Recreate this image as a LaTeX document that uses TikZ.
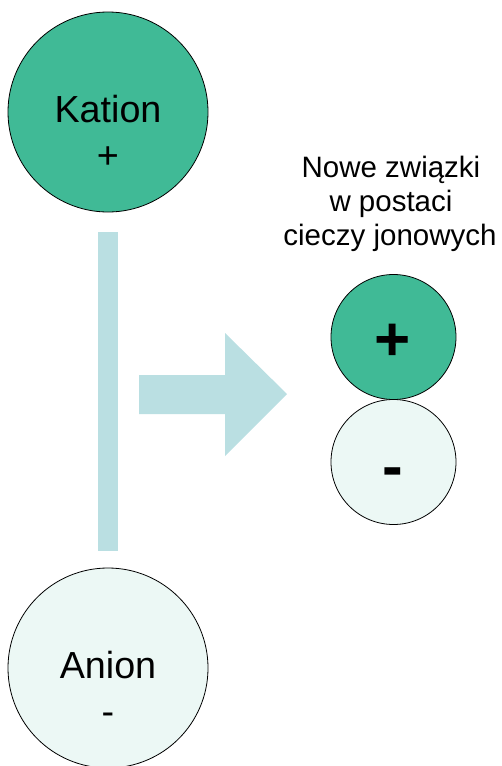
\documentclass[tikz,border=0pt]{standalone}
\usepackage{fontspec}
\setmainfont{Liberation Sans}
\definecolor{cationgreen}{RGB}{64,186,150}
\definecolor{anionpale}{RGB}{236,248,245}
\definecolor{flowblue}{RGB}{186,223,226}
\begin{document}
\begin{tikzpicture}[x=1pt,y=-1pt,
  ion/.style={circle,draw=black,line width=0.8pt,inner sep=0pt},
  bigion/.style={ion,minimum size=200pt},
  smallion/.style={ion,minimum size=125pt},
  bigtxt/.style={anchor=base,inner sep=0pt,font=\fontsize{37.7}{45}\selectfont},
  signtxt/.style={anchor=base,inner sep=0pt,font=\fontsize{62}{68}\bfseries},
  captxt/.style={anchor=base,inner sep=0pt,font=\fontsize{29.5}{35}\selectfont}]
  \useasboundingbox (0,0) rectangle (501,766);

  % vertical bar joining the two ions
  \fill[flowblue] (98,232) rectangle (118,551);
  % block arrow pointing to the ion pair
  \fill[flowblue] (139,375) -- (225,375) -- (225,333) -- (287,394)
                  -- (225,456) -- (225,414) -- (139,414) -- cycle;

  % cation
  \node[bigion,fill=cationgreen] (kation) at (108,112) {};
  \node[bigtxt] (kationname) at (108,122) {Kation};
  \node[bigtxt] (kationsign) at (108,168) {+};

  % anion
  \node[bigion,fill=anionpale] (anion) at (108,668) {};
  \node[bigtxt] (anionname) at (108,678) {Anion};
  \node[bigtxt] (anionsign) at (108,724) {-};

  % caption
  \node[captxt] (cap1) at (391,177) {Nowe związki};
  \node[captxt] (cap2) at (391,211) {w postaci};
  \node[captxt] (cap3) at (390,245) {cieczy jonowych};

  % ion pair
  \node[smallion,fill=cationgreen] (pairplus) at (393.5,337) {};
  \node[smallion,fill=anionpale] (pairminus) at (393.5,462) {};
  \node[signtxt] (plussign) at (393,360.5) {+};
  \node[signtxt] (minussign) at (393,487) {-};
\end{tikzpicture}
\end{document}
